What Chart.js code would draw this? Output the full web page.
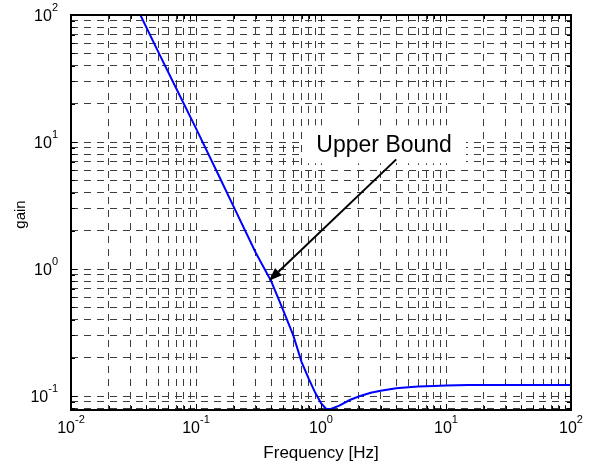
<!DOCTYPE html>
<html>
<head>
<meta charset="utf-8">
<script src="https://cdn.jsdelivr.net/npm/chart.js@4.4.1/dist/chart.umd.min.js"></script>
<style>
  html, body { margin: 0; padding: 0; background: #fff; }
</style>
</head>
<body>
<canvas id="gainChart" width="595" height="465"></canvas>
<script>
// values
const freq = [0.0359, 0.05, 0.07, 0.1, 0.15, 0.2, 0.3, 0.4, 0.5, 0.6, 0.7, 0.8, 0.9, 1.0, 1.1, 1.2, 1.4, 1.7, 2, 2.5, 3, 4, 5, 6, 8, 10, 15, 30, 100];
const gain = [100, 51, 26, 12.8, 5.6, 3.1, 1.35, 0.8, 0.47, 0.3, 0.185, 0.136, 0.106, 0.088, 0.079, 0.079, 0.084, 0.093, 0.099, 0.106, 0.110, 0.115, 0.117, 0.119, 0.120, 0.121, 0.122, 0.122, 0.122];

const xDecades = [-2, -1, 0, 1, 2];
const yDecades = [-1, 0, 1, 2];
const xRange = [0.01, 100];
const yRange = [0.0776, 100];
const xTitle = "Frequency [Hz]";
const yTitle = "gain";

// annotation, in data coordinates
const noteText = "Upper Bound";
const noteAt = [3.2, 8.3];
const arrowFrom = [4.0, 7.3];
const arrowTo = [0.384, 0.81];

const FONT = '"Liberation Sans", Arial, Helvetica, sans-serif';

function logTicks(min, max) {
  const out = [];
  const e0 = Math.floor(Math.log10(min));
  const e1 = Math.ceil(Math.log10(max));
  for (let e = e0; e <= e1; e++) {
    for (let m = 1; m <= 9; m++) {
      const v = +(m * Math.pow(10, e)).toPrecision(6);
      if (v >= min * 0.9999 && v <= max * 1.0001) out.push({ value: v, major: m === 1 });
    }
  }
  return out;
}

function drawPow(ctx, e, x, y, align) {
  ctx.font = "16px " + FONT;
  const bw = ctx.measureText("10").width;
  ctx.font = "11px " + FONT;
  const ew = ctx.measureText(String(e)).width;
  const x0 = align === "center" ? x - (bw + ew) / 2 : x - bw - ew;
  ctx.textAlign = "left";
  ctx.textBaseline = "alphabetic";
  ctx.fillStyle = "#000";
  ctx.font = "16px " + FONT;
  ctx.fillText("10", x0, y);
  ctx.font = "11px " + FONT;
  ctx.fillText(String(e), x0 + bw, y - 10);
}

const frame = {
  id: "frame",
  afterDraw(chart) {
    const { ctx, chartArea: a, scales } = chart;
    const xs = scales.x, ys = scales.y;
    ctx.save();

    // inward tick marks on all four sides
    ctx.strokeStyle = "#000";
    ctx.lineWidth = 1;
    ctx.beginPath();
    xs.ticks.forEach(t => {
      const px = Math.round(xs.getPixelForValue(t.value)) + 0.5;
      const len = t.major ? 6 : 4;
      ctx.moveTo(px, a.bottom); ctx.lineTo(px, a.bottom - len);
      ctx.moveTo(px, a.top); ctx.lineTo(px, a.top + len);
    });
    ys.ticks.forEach(t => {
      const py = Math.round(ys.getPixelForValue(t.value)) + 0.5;
      const len = t.major ? 6 : 4;
      ctx.moveTo(a.left, py); ctx.lineTo(a.left + len, py);
      ctx.moveTo(a.right, py); ctx.lineTo(a.right - len, py);
    });
    ctx.stroke();

    // axes box
    ctx.lineWidth = 2;
    ctx.strokeRect(a.left, a.top, a.right - a.left, a.bottom - a.top);

    // tick labels
    xDecades.forEach(e => drawPow(ctx, e, xs.getPixelForValue(Math.pow(10, e)), a.bottom + 23, "center"));
    yDecades.forEach(e => drawPow(ctx, e, a.left - 13, ys.getPixelForValue(Math.pow(10, e)) + 6, "right"));

    // axis titles
    ctx.fillStyle = "#000";
    ctx.font = "17px " + FONT;
    ctx.textAlign = "center";
    ctx.textBaseline = "alphabetic";
    ctx.fillText(xTitle, (a.left + a.right) / 2, 458);
    ctx.save();
    ctx.translate(25, (a.top + a.bottom) / 2 + 2);
    ctx.rotate(-Math.PI / 2);
    ctx.font = "15px " + FONT;
    ctx.fillText(yTitle, 0, 0);
    ctx.restore();

    // annotation box + arrow
    const tx = xs.getPixelForValue(noteAt[0]);
    const ty = ys.getPixelForValue(noteAt[1]);
    ctx.font = "23px " + FONT;
    const tw = ctx.measureText(noteText).width;
    ctx.fillStyle = "#fff";
    ctx.fillRect(tx - tw / 2 - 14, ty - 27, tw + 28, 38);
    ctx.fillStyle = "#000";
    ctx.textAlign = "center";
    ctx.fillText(noteText, tx, ty);

    const x1 = xs.getPixelForValue(arrowFrom[0]), y1 = ys.getPixelForValue(arrowFrom[1]);
    const x2 = xs.getPixelForValue(arrowTo[0]), y2 = ys.getPixelForValue(arrowTo[1]);
    const ang = Math.atan2(y2 - y1, x2 - x1);
    const hl = 13, hw = 5;
    const bx = x2 - hl * Math.cos(ang), by = y2 - hl * Math.sin(ang);
    ctx.strokeStyle = "#000";
    ctx.lineWidth = 2;
    ctx.beginPath();
    ctx.moveTo(x1, y1);
    ctx.lineTo(bx, by);
    ctx.stroke();
    ctx.beginPath();
    ctx.moveTo(x2, y2);
    ctx.lineTo(bx + hw * Math.sin(ang), by - hw * Math.cos(ang));
    ctx.lineTo(bx - hw * Math.sin(ang), by + hw * Math.cos(ang));
    ctx.closePath();
    ctx.fillStyle = "#000";
    ctx.fill();

    ctx.restore();
  }
};

const gridOpts = {
  color: "#3c3c3c",
  lineWidth: 1,
  drawTicks: false
};

new Chart(document.getElementById("gainChart"), {
  type: "line",
  data: {
    datasets: [{
      data: freq.map((f, i) => ({ x: f, y: gain[i] })),
      borderColor: "#0000ff",
      borderWidth: 2,
      pointRadius: 0,
      tension: 0,
      fill: false
    }]
  },
  options: {
    responsive: false,
    animation: false,
    events: [],
    layout: { padding: { left: 71, right: 24, top: 15, bottom: 55 } },
    plugins: { legend: { display: false }, tooltip: { enabled: false } },
    scales: {
      x: {
        type: "logarithmic",
        min: xRange[0],
        max: xRange[1],
        afterBuildTicks: s => { s.ticks = logTicks(xRange[0], xRange[1]); },
        afterFit: s => { s.height = 0; },
        ticks: { display: false },
        grid: gridOpts,
        border: { display: false, dash: [7, 6] }
      },
      y: {
        type: "logarithmic",
        min: yRange[0],
        max: yRange[1],
        afterBuildTicks: s => { s.ticks = logTicks(yRange[0], yRange[1]); },
        afterFit: s => { s.width = 0; },
        ticks: { display: false },
        grid: gridOpts,
        border: { display: false, dash: [7, 6] }
      }
    }
  },
  plugins: [frame]
});
</script>
</body>
</html>
